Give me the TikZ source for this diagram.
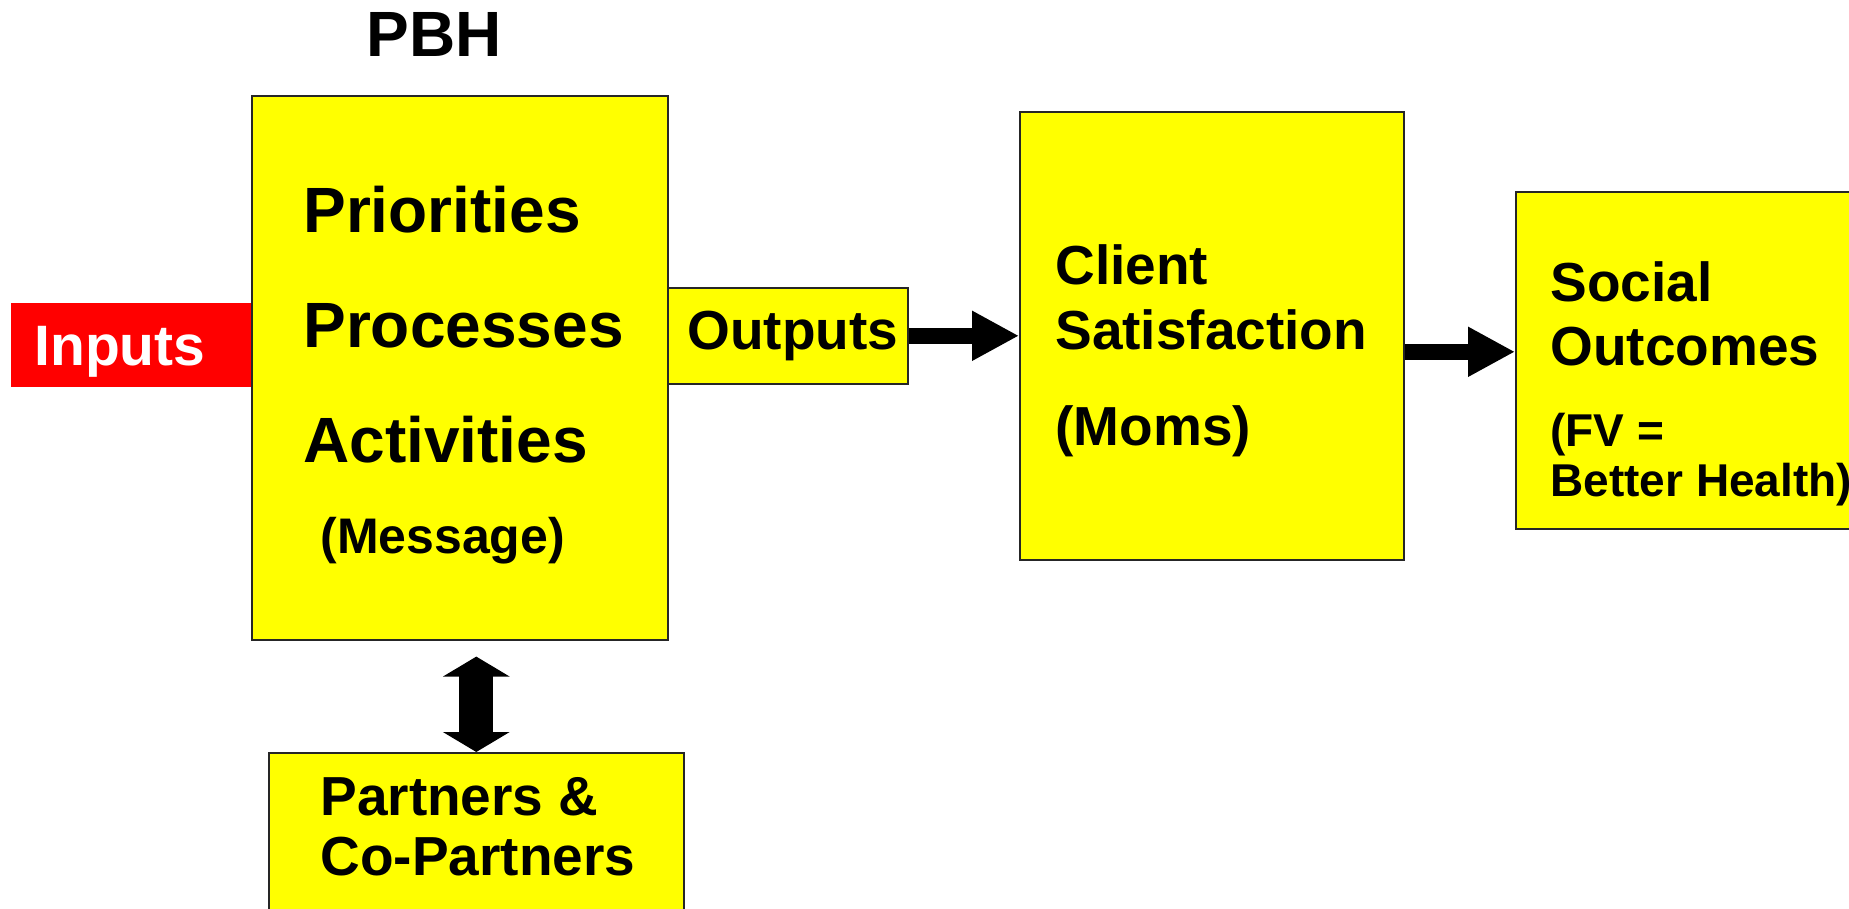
\documentclass[tikz,border=0pt]{standalone}
\usepackage{fontspec}
\setmainfont{Liberation Sans}
\usetikzlibrary{arrows.meta}
\definecolor{boxyellow}{RGB}{255,255,0}
\definecolor{inred}{RGB}{255,0,0}

\begin{document}
\begin{tikzpicture}[x=0.5pt,y=-0.5pt]
    \tikzstyle{B}=[rectangle,draw=black!85,line width=0.8pt,fill=boxyellow,anchor=north west,inner sep=0pt]
    \tikzstyle{T}=[anchor=base west,inner sep=0pt,font=\bfseries\fontsize{27.5}{33}\selectfont]
    \tikzstyle{big}=[font=\bfseries\fontsize{32}{38}\selectfont]
    \tikzstyle{mid}=[font=\bfseries\fontsize{25}{30}\selectfont]
    \tikzstyle{small}=[font=\bfseries\fontsize{23}{27}\selectfont]
    \tikzstyle{fat}=[line width=8pt,-{Triangle[length=23.5pt,width=23.5pt]}]
    \tikzstyle{dbl}=[line width=17pt,{Triangle[length=10pt,width=33pt]}-{Triangle[length=10pt,width=33pt]}]

    \useasboundingbox (0,0) rectangle (1849,909);

    % Boxes
    \node [rectangle,fill=inred,anchor=north west,inner sep=0pt,
           minimum width=120pt,minimum height=42pt] (inp) at (11,303) {};
    \node [B,minimum width=208pt,minimum height=272pt] (main) at (251,95) {};
    \node [B,minimum width=120pt,minimum height=48pt] (outp) at (667,287) {};
    \node [B,minimum width=192pt,minimum height=224pt] (client) at (1019,111) {};
    \node [B,minimum width=200pt,minimum height=168.5pt] (social) at (1515,191) {};
    \node [B,minimum width=207.5pt,minimum height=110pt] (partners) at (268,752) {};

    % Texts
    \node [T,big] (tpbh) at (366,57) {PBH};
    \node [T,big] (tprio) at (303,233) {Priorities};
    \node [T,big] (tproc) at (303,348) {Processes};
    \node [T,big] (tact) at (303,463) {Activities};
    \node [T,mid] (tmsg) at (320,553) {(Message)};
    \node [T,text=white,font=\bfseries\fontsize{28.5}{34}\selectfont] (tinp) at (34,366) {Inputs};
    \node [T] (toutp) at (687,350) {Outputs};
    \node [T] (tcl1) at (1055,285) {Client};
    \node [T] (tcl2) at (1055,350) {Satisfaction};
    \node [T] (tcl3) at (1055,445) {(Moms)};
    \node [T] (tso1) at (1550,302) {Social};
    \node [T] (tso2) at (1550,365) {Outcomes};
    \node [T,small] (tso3) at (1550,446) {(FV =};
    \node [T,small] (tso4) at (1550,496) {Better Health)};
    \node [T] (tpa1) at (320,815) {Partners \&};
    \node [T] (tpa2) at (320,875) {Co-Partners};

    % Arrows
    \draw [fat] (outp.east) -- (client.west);
    \draw [fat] ([yshift=-8pt]client.east) -- ([yshift=-8pt]client.east -| social.west);
    \draw [dbl,shorten >=8pt] (partners.north) -- (partners.north |- main.south);
\end{tikzpicture}
\end{document}
